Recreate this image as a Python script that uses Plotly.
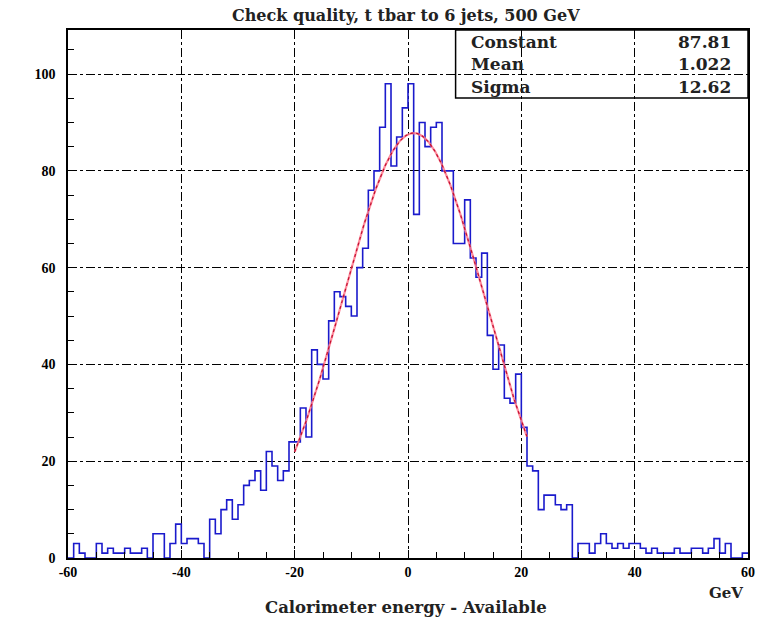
import numpy as np
import plotly.graph_objects as go

# ---- data ----
bin_width = 1.0
x_min, x_max = -60, 60
counts = [
    0, 3, 1, 0, 0, 3, 1, 2, 1, 1,        # -60 .. -51
    2, 1, 1, 2, 0, 5, 5, 0, 3, 7,        # -50 .. -41
    3, 4, 4, 3, 0, 8, 5, 10, 12, 8,      # -40 .. -31
    11, 15, 16, 18, 14, 22, 19, 16, 18, 24,  # -30 .. -21
    24, 31, 25, 43, 40, 37, 49, 55, 54, 52,  # -20 .. -11
    50, 60, 64, 76, 80, 89, 98, 81, 87, 93,  # -10 .. -1
    98, 71, 90, 85, 89, 90, 80, 80, 65, 65,  # 0 .. 9
    74, 62, 58, 63, 46, 39, 44, 33, 32, 38,  # 10 .. 19
    27, 19, 18, 10, 13, 13, 11, 10, 11, 0,   # 20 .. 29
    3, 3, 1, 3, 5, 3, 2, 3, 2, 3,            # 30 .. 39
    3, 2, 1, 2, 1, 1, 1, 2, 1, 1,            # 40 .. 49
    2, 2, 1, 2, 4, 1, 3, 0, 0, 1,            # 50 .. 59
]
fit_constant = 87.81
fit_mean = 1.022
fit_sigma = 12.62
fit_range = (-20.0, 21.0)
stat_names = ["Constant", "Mean", "Sigma"]
stat_values = ["87.81", "1.022", "12.62"]
x_tickvals = [-60, -40, -20, 0, 20, 40, 60]
x_ticktext = ["-60", "-40", "-20", "0", "20", "40", "60"]
y_tickvals = [0, 20, 40, 60, 80, 100]

title = "Check quality, t tbar to 6 jets, 500 GeV"
x_title = "Calorimeter energy - Available"
x_unit = "GeV"

# ---- derived ----
edges = x_min + bin_width * np.arange(len(counts) + 1)
step_y = list(counts) + [counts[-1]]
xf = np.linspace(fit_range[0], fit_range[1], 300)
yf = fit_constant * np.exp(-0.5 * ((xf - fit_mean) / fit_sigma) ** 2)

FONT = "Liberation Serif"
TFONT = "DejaVu Serif"

fig = go.Figure()
fig.add_trace(go.Scatter(x=edges, y=step_y, mode="lines", line_shape="hv",
                         line=dict(color="#1a1acc", width=1.6), hoverinfo="skip"))
fig.add_trace(go.Scatter(x=xf, y=yf, mode="lines",
                         line=dict(color="rgba(255,120,140,0.85)", width=2.2), hoverinfo="skip"))
fig.add_trace(go.Scatter(x=xf, y=yf, mode="lines",
                         line=dict(color="#c01030", width=1.2, dash="dot"), hoverinfo="skip"))

axis_common = dict(
    showline=True, linecolor="black", linewidth=1.5, mirror=True,
    showgrid=True, gridcolor="black", gridwidth=1, griddash="dashdot",
    zeroline=False, ticks="inside", tickcolor="black", ticklen=8,
    tickfont=dict(family=FONT, size=14, color="black", weight="bold"),
)

fig.update_xaxes(range=[x_min, x_max], tickvals=x_tickvals, ticktext=x_ticktext, **axis_common,
                 minor=dict(dtick=5, tick0=0, ticks="inside", ticklen=6, tickcolor="black", showgrid=False))
fig.update_yaxes(range=[0, 109.1], tickvals=y_tickvals, **axis_common,
                 minor=dict(dtick=5, tick0=0, ticks="inside", ticklen=6, tickcolor="black", showgrid=False),
                 ticklabelstandoff=8)

# stats box
fig.add_shape(type="rect", xref="paper", yref="paper", x0=0.570, x1=1.0, y0=0.871, y1=1.0,
              line=dict(color="black", width=1.5), fillcolor="rgba(0,0,0,0)")
row_y = [0.977, 0.935, 0.892]
for name, val, yy in zip(stat_names, stat_values, row_y):
    fig.add_annotation(x=0.590, y=yy, xref="paper", yref="paper", text="<b>%s</b>" % name,
                       showarrow=False, xanchor="left", yanchor="middle",
                       font=dict(family=TFONT, size=17, color="#222"))
    fig.add_annotation(x=0.978, y=yy, xref="paper", yref="paper", text="<b>%s</b>" % val,
                       showarrow=False, xanchor="right", yanchor="middle",
                       font=dict(family=TFONT, size=17, color="#222"))

fig.add_annotation(x=0.497, y=1.028, xref="paper", yref="paper", text="<b>%s</b>" % title,
                   showarrow=False, xanchor="center", yanchor="middle",
                   font=dict(family=TFONT, size=16, color="#222"))
fig.add_annotation(x=0.497, y=-0.093, xref="paper", yref="paper", text="<b>%s</b>" % x_title,
                   showarrow=False, xanchor="center", yanchor="middle",
                   font=dict(family=TFONT, size=16.5, color="#222"))
fig.add_annotation(x=0.995, y=-0.067, xref="paper", yref="paper", text="<b>%s</b>" % x_unit,
                   showarrow=False, xanchor="right", yanchor="middle",
                   font=dict(family=TFONT, size=15, color="#222"))

fig.update_layout(
    width=767, height=622,
    margin=dict(l=68, r=15, t=30, b=64),
    paper_bgcolor="white", plot_bgcolor="white",
    showlegend=False,
)

fig.write_html("out.html")
